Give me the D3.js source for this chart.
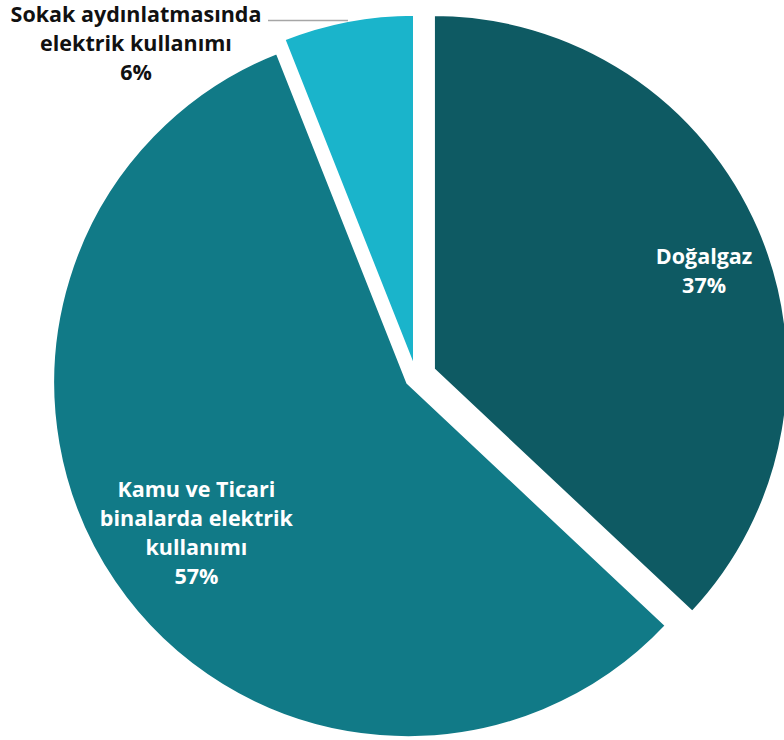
<!DOCTYPE html>
<html>
<head>
<meta charset="utf-8">
<script src="https://cdn.jsdelivr.net/npm/d3@7"></script>
<style>
  html, body { margin: 0; padding: 0; background: #ffffff; }
  svg { display: block; }
</style>
</head>
<body>
<svg id="chart" width="784" height="740"></svg>
<script>
// Enerji tüketimi dağılımı
const categories = ["Doğalgaz", "Kamu ve Ticari binalarda elektrik kullanımı", "Sokak aydınlatmasında elektrik kullanımı"];
const values = [37, 57, 6];
const labelLines = [
  ["Doğalgaz"],
  ["Kamu ve Ticari", "binalarda elektrik", "kullanımı"],
  ["Sokak aydınlatmasında", "elektrik kullanımı"]
];
const colors = ["#0e5a63", "#117a87", "#1ab4cb"];

// layout
const W = 784, H = 740;
const cx = 416, cy = 377, R = 355;
const explode = [19, 10, 8];
const lineH = 29;
const font = "'Open Sans', sans-serif";
const fontSize = 21.5;

const svg = d3.select("#chart");
const total = d3.sum(values);
const pie = d3.pie().sort(null).value(d => d)(values);
const arc = d3.arc().innerRadius(0).outerRadius(R);

const apex = (d, i) => {
  const a = (d.startAngle + d.endAngle) / 2;
  return [cx + explode[i] * Math.sin(a), cy - explode[i] * Math.cos(a)];
};

const g = svg.append("g");
g.selectAll("path.slice")
  .data(pie)
  .join("path")
  .attr("class", "slice")
  .attr("transform", (d, i) => `translate(${apex(d, i)})`)
  .attr("d", arc)
  .attr("fill", (d, i) => colors[i])
  .attr("stroke", "#ffffff")
  .attr("stroke-width", 3)
  .attr("stroke-linejoin", "miter");

const pct = v => Math.round(v / total * 100) + "%";

function drawLabel(x, y, lines, fill) {
  const n = lines.length;
  const t = svg.append("text")
    .attr("text-anchor", "middle")
    .attr("font-family", font)
    .attr("font-weight", 700)
    .attr("font-size", fontSize)
    .attr("fill", fill);
  lines.forEach((s, k) => {
    t.append("tspan")
      .attr("x", x)
      .attr("y", y + (k - (n - 1) / 2) * lineH)
      .attr("dy", "0.36em")
      .text(s);
  });
}

// inside labels: along the slice mid-angle
const inside = [
  { i: 0, r: 0.8, dx: 10, dy: 14 },
  { i: 1, r: 0.73, dx: 3, dy: 4 }
];
inside.forEach(o => {
  const d = pie[o.i];
  const a = (d.startAngle + d.endAngle) / 2;
  const [ax, ay] = apex(d, o.i);
  const x = ax + o.r * R * Math.sin(a) + o.dx;
  const y = ay - o.r * R * Math.cos(a) + o.dy;
  drawLabel(x, y, labelLines[o.i].concat([pct(values[o.i])]), "#ffffff");
});

// outside label with leader line for the small slice
{
  const i = 2, d = pie[i];
  const a = (d.startAngle + d.endAngle) / 2;
  const [ax, ay] = apex(d, i);
  const px = ax + R * Math.sin(a), py = ay - R * Math.cos(a);
  const ex = 268, ey = 20.5;
  svg.append("line")
    .attr("x1", px).attr("y1", py)
    .attr("x2", ex).attr("y2", ey)
    .attr("stroke", "#a6a6a6")
    .attr("stroke-width", 1.5);
  drawLabel(136, 43, labelLines[i].concat([pct(values[i])]), "#111111");
}
</script>
</body>
</html>
